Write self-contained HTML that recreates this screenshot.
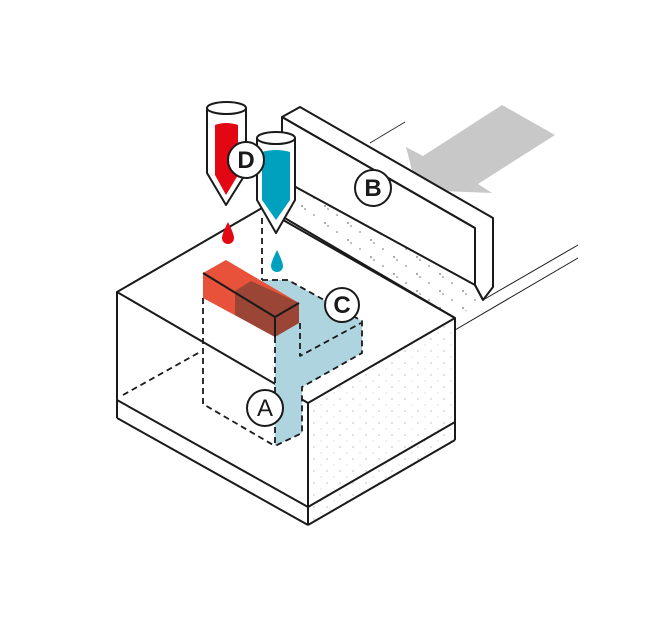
<!DOCTYPE html>
<html><head><style>html,body{margin:0;padding:0;background:#fff}svg{display:block}</style></head>
<body>
<svg width="650" height="624" viewBox="0 0 650 624" xmlns="http://www.w3.org/2000/svg">
<defs>
<pattern id="dots" width="13" height="12" patternUnits="userSpaceOnUse">
<circle cx="2" cy="3" r="0.6" fill="#666"/><circle cx="9" cy="9" r="0.5" fill="#888"/>
</pattern>
<pattern id="dots2" width="23" height="17" patternUnits="userSpaceOnUse">
<circle cx="3" cy="2" r="0.9" fill="#333"/><circle cx="6" cy="5" r="0.8" fill="#333"/><circle cx="15" cy="11" r="0.8" fill="#333"/>
</pattern>
</defs>
<g stroke="#1a1a1a" stroke-width="2" fill="none" stroke-linejoin="round">
<polygon points="502,105 555,135 478,184 492,193 417,190 406,147 423,156" fill="#c8c8c8" stroke="none"/>
<line x1="370" y1="143" x2="405" y2="122" stroke-width="0.8"/>
<line x1="483" y1="300" x2="578" y2="245" stroke-width="1"/>
<line x1="455" y1="330" x2="578" y2="258" stroke-width="1"/>
<polygon points="282,117 300,107 493,218 493,287 483,300 475,285 475,228 282,117" fill="#fff"/>
<line x1="282" y1="117" x2="475" y2="228"/>
<line x1="282" y1="117" x2="282" y2="190"/>
<line x1="475" y1="285" x2="483" y2="300"/>
<line x1="292" y1="185" x2="475" y2="285"/>
<polygon points="283,205 292,185 475,285 483,300 455,318" fill="url(#dots2)" stroke="none" opacity="0.7"/>
<line x1="283" y1="217" x2="455" y2="318"/>
<polygon points="308,403 455,318 455,440 308,525" fill="url(#dots)" stroke="none" opacity="0.7"/>
<polygon points="117,292 262,208 455,318 308,403" fill="none"/>
<line x1="308" y1="403" x2="308" y2="525"/>
<line x1="117" y1="292" x2="117" y2="418"/>
<line x1="455" y1="318" x2="455" y2="440"/>
<line x1="117" y1="418" x2="308" y2="525"/>
<line x1="308" y1="525" x2="455" y2="440"/>
<line x1="117" y1="400" x2="308" y2="507"/>
<line x1="308" y1="507" x2="455" y2="422"/>
<polygon points="262,280 288,280 362,321 362,353 302,387 302,433 275,446 275,337" fill="#aed4e0" stroke="none"/>
<g stroke-dasharray="6,4" stroke-width="1.8">
<line x1="262" y1="218" x2="262" y2="280"/>
<polyline points="262,280 288,280 362,321 362,353 302,387 302,433 275,446"/>
<line x1="275" y1="337" x2="275" y2="446"/>
<polyline points="203,298 203,404 275,446"/>
<polyline points="300,323 300,356 361,323"/>
<line x1="123" y1="395" x2="200" y2="352"/>
</g>
<polygon points="203,273 226,260 299,303 275,317" fill="#e8513a" stroke="none"/>
<polygon points="203,273 275,317 275,337 203,298" fill="#e8513a" stroke="none"/>
<polygon points="235,291 251,281 299,303 275,317 275,337 235,315" fill="#9a4535" stroke="none"/>
<polygon points="275,317 299,303 299,323 275,337" fill="#9a4535" stroke="none"/>
<line x1="203" y1="273" x2="275" y2="317"/>
<polyline points="275,337 275,317 299,303"/>
<path d="M207,108 L207,173 L226,205 L246,173 L246,108" fill="#fff"/>
<path d="M215,125 Q226,121 238,125 L238,175 L226,195 L215,175 Z" fill="#e30613" stroke="none"/>
<ellipse cx="226.5" cy="108" rx="19.5" ry="6" fill="#fff"/>
<path d="M257,138 L257,200 L276,233 L295,200 L295,138" fill="#fff"/>
<path d="M262,152 Q276,148 290,152 L290,200 L276,220 L262,200 Z" fill="#00a0bf" stroke="none"/>
<ellipse cx="276" cy="138" rx="19" ry="6" fill="#fff"/>
<path d="M228,222 Q222,234 222,238 A6,6 0 0 0 234,238 Q234,234 228,222Z" fill="#e30613" stroke="none"/>
<path d="M277,250 Q271,262 271,266 A6,6 0 0 0 283,266 Q283,262 277,250Z" fill="#00a0bf" stroke="none"/>
<g fill="#fff" stroke-width="2">
<circle cx="246" cy="160" r="18"/>
<circle cx="373" cy="188" r="18"/>
<circle cx="342" cy="305" r="17"/>
<circle cx="265" cy="408" r="18"/>
</g>
</g>
<g font-family="Liberation Sans, sans-serif" font-weight="bold" font-size="24" fill="#1a1a1a" text-anchor="middle">
<text x="246" y="168">D</text>
<text x="373" y="196">B</text>
<text x="342" y="313">C</text>
<text x="265" y="416" font-weight="normal">A</text>
</g>
</svg>
</body></html>
